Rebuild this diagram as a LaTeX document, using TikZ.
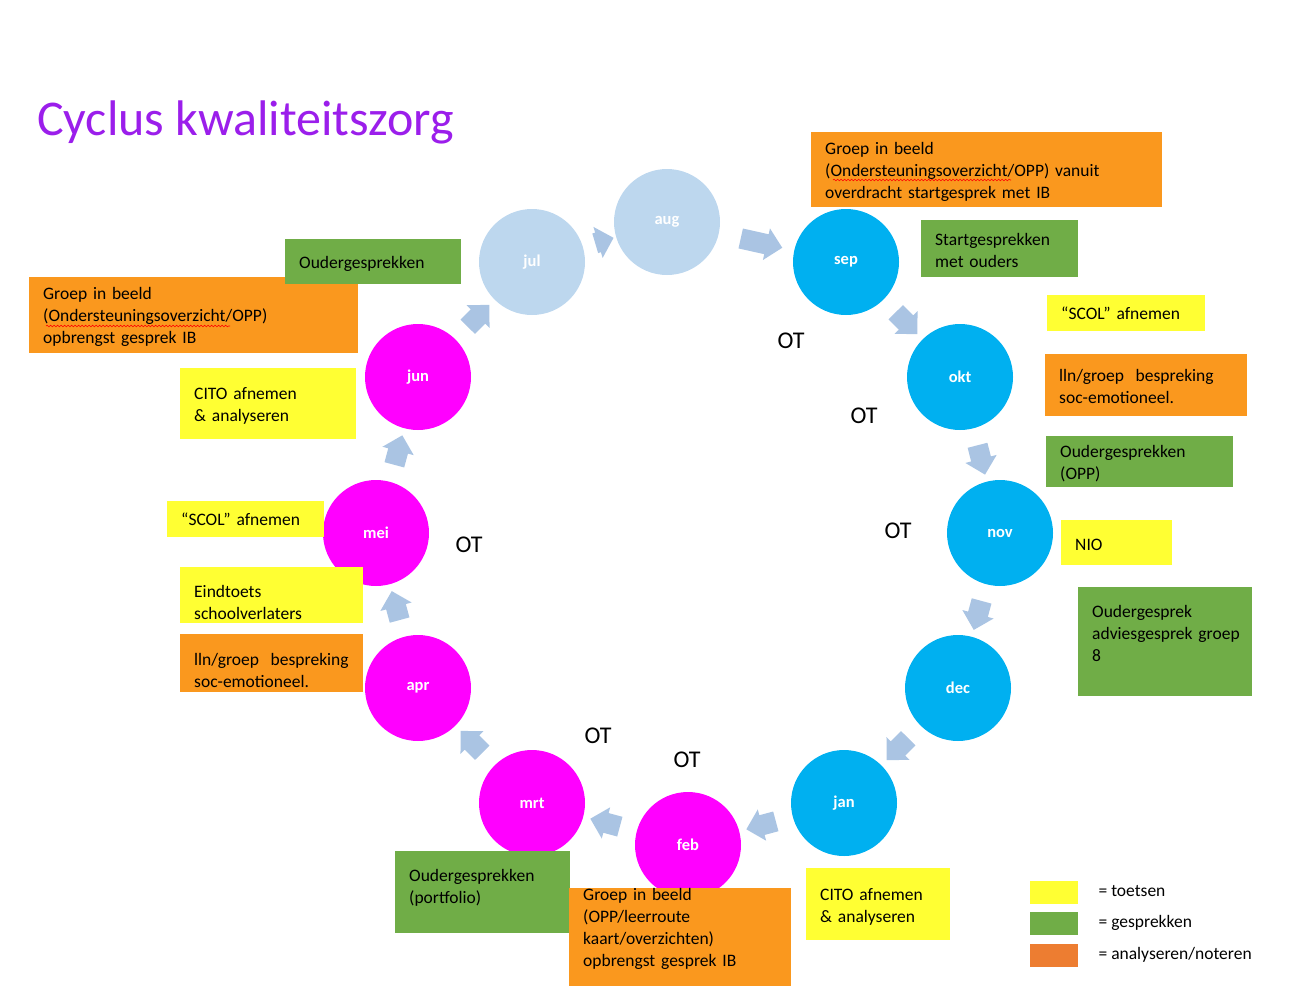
\documentclass[tikz,border=0pt]{standalone}
\usepackage{fontspec}
\setmainfont{Carlito}
\usetikzlibrary{positioning, calc, shapes.arrows, backgrounds, decorations.pathmorphing}
\definecolor{titlepurple}{RGB}{155,30,235}
\definecolor{monthlight}{RGB}{189,215,238}
\definecolor{monthcyan}{RGB}{0,176,240}
\definecolor{monthmagenta}{RGB}{255,0,255}
\definecolor{boxyellow}{RGB}{255,255,51}
\definecolor{boxgreen}{RGB}{112,173,71}
\definecolor{boxorange}{RGB}{250,152,30}
\definecolor{legendorange}{RGB}{237,125,49}
\definecolor{arrowblue}{RGB}{170,196,227}

\begin{document}
\begin{tikzpicture}[
    x=1pt, y=-1pt,
    month/.style={circle, inner sep=0pt, minimum size=106pt, text=white, font=\fontsize{16.5}{18}\selectfont\bfseries},
    cyclearrow/.style={single arrow, fill=arrowblue, inner xsep=0pt, inner ysep=10pt, single arrow head extend=6pt, single arrow head indent=0pt},
    infobox/.style={anchor=north west, inner xsep=14pt, inner ysep=0pt, align=left, font=\fontsize{17.5}{22}\selectfont},
    toets/.style={infobox, fill=boxyellow},
    gesprek/.style={infobox, fill=boxgreen},
    analyse/.style={infobox, fill=boxorange},
    ot/.style={font=\fontsize{24}{26}\selectfont},
    legendkey/.style={minimum width=48pt, minimum height=23pt, inner sep=0pt, anchor=north west},
    legendtext/.style={inner sep=0pt, text height=12pt, text depth=4pt, font=\fontsize{17.5}{20}\selectfont},
    typo/.style={draw=red, line width=0.6pt, decorate, decoration={snake, amplitude=0.8pt, segment length=3.5pt}}
]
    \useasboundingbox (0,0) rectangle (1303,985);

    % Title
    \node[anchor=base west, inner sep=0pt, text=titlepurple, font=\fontsize{50}{56}\selectfont] (title) at (37,135) {Cyclus kwaliteitszorg};

    % Months
    \node[month, fill=monthlight] (jul) at (532,262) {jul};
    \node[month, fill=monthlight] (aug) at (667,222) {aug};
    \node[month, fill=monthcyan] (sep) at (846,262) {sep};
    \node[month, fill=monthcyan] (okt) at (960,377) {okt};
    \node[month, fill=monthcyan] (nov) at (1000,533) {nov};
    \node[month, fill=monthcyan] (dec) at (958,688) {dec};
    \node[month, fill=monthcyan] (jan) at (844,803) {jan};
    \node[month, fill=monthmagenta] (feb) at (688,845) {feb};
    \node[month, fill=monthmagenta] (mrt) at (532,803) {mrt};
    \node[month, fill=monthmagenta] (apr) at (418,688) {apr};
    \node[month, fill=monthmagenta] (mei) at (376,533) {mei};
    \node[month, fill=monthmagenta] (jun) at (418,377) {jun};

    % Arrows between months
    \begin{scope}[on background layer]
    \foreach \from/\to in {jul/aug, aug/sep, sep/okt, okt/nov, nov/dec, dec/jan, jan/feb, feb/mrt, mrt/apr, apr/mei, mei/jun, jun/jul}
        \path let \p1 = ($(\to)-(\from)$),
                  \n1 = {atan2(\y1,\x1)},
                  \n2 = {0.55*(veclen(\x1,\y1)-106)} in
            node[cyclearrow, rotate=\n1, minimum height=\n2] (arrow-\from) at ($(\from)!0.5!(\to)$) {};
    \end{scope}

    % OT labels
    \node[ot] (ot-sep) at (791,341) {OT};
    \node[ot] (ot-okt) at (864,416) {OT};
    \node[ot] (ot-nov) at (898,531) {OT};
    \node[ot] (ot-mei) at (469,545) {OT};
    \node[ot] (ot-mrt) at (598,736) {OT};
    \node[ot] (ot-feb) at (687,760) {OT};

    % Right side
    \node[analyse, text width=323pt, text height=22.5pt, text depth=52.5pt] (beeld-sep) at (811,132) {Groep in beeld\\(Ondersteuningsoverzicht/OPP) vanuit\\overdracht startgesprek met IB};
    \node[gesprek, text width=129pt, text height=25.5pt, text depth=31.5pt] (start-sep) at (921,220) {Startgesprekken\\met ouders};
    \node[toets, text width=130pt, text height=24.5pt, text depth=11.5pt] (scol-okt) at (1047,295) {“SCOL” afnemen};
    \node[analyse, text width=174pt, text height=27.5pt, text depth=34.5pt] (lln-okt) at (1045,354) {lln/groep\ \ bespreking\\soc-emotioneel.};
    \node[gesprek, text width=159pt, text height=21.5pt, text depth=29.5pt] (ouder-nov) at (1046,436) {Oudergesprekken\\(OPP)};
    \node[toets, text width=83pt, text height=30.5pt, text depth=14.5pt] (nio-nov) at (1061,520) {NIO};
    \node[gesprek, text width=146pt, text height=30.5pt, text depth=78.5pt] (advies-dec) at (1078,587) {Oudergesprek\\adviesgesprek~groep\\8};

    % Bottom
    \node[toets, text width=116pt, text height=32.5pt, text depth=39.5pt] (cito-jan) at (806,868) {CITO afnemen\\\& analyseren};
    \node[gesprek, text width=147pt, text height=30.5pt, text depth=51.5pt] (ouder-mrt) at (395,851) {Oudergesprekken\\(portfolio)};
    \node[analyse, text width=194pt, text height=12.5pt, text depth=87.5pt] (beeld-feb) at (569,888) {Groep in beeld\\(OPP/leerroute\\kaart/overzichten)\\opbrengst gesprek IB};

    % Left side
    \node[analyse, text width=155pt, text height=31.5pt, text depth=26.5pt] (lln-apr) at (180,634) {lln/groep\ \ bespreking\\soc-emotioneel.};
    \node[toets, text width=155pt, text height=30.5pt, text depth=25.5pt] (eind-mei) at (180,567) {Eindtoets\\schoolverlaters};
    \node[toets, text width=129pt, text height=24.5pt, text depth=11.5pt] (scol-mei) at (167,501) {“SCOL” afnemen};
    \node[toets, text width=148pt, text height=31.5pt, text depth=39.5pt] (cito-jun) at (180,368) {CITO afnemen\\\& analyseren};
    \node[analyse, text width=301pt, text height=22.5pt, text depth=53.5pt] (beeld-jun) at (29,277) {Groep in beeld\\(Ondersteuningsoverzicht/OPP)\\opbrengst gesprek IB};
    \node[gesprek, text width=148pt, text height=29.5pt, text depth=15.5pt] (ouder-jul) at (285,239) {Oudergesprekken};

    % Spelling marks
    \draw[typo] (833,180) -- (1011,180);
    \draw[typo] (46,326) -- (230,326);

    % Legend
    \node[legendkey, fill=boxyellow] (key-toets) at (1030,881) {};
    \node[legendkey, fill=boxgreen] (key-gesprek) at (1030,912) {};
    \node[legendkey, fill=legendorange] (key-analyse) at (1030,944) {};
    \node[legendtext, right=20pt of key-toets] (txt-toets) {= toetsen};
    \node[legendtext, right=20pt of key-gesprek] (txt-gesprek) {= gesprekken};
    \node[legendtext, right=20pt of key-analyse] (txt-analyse) {= analyseren/noteren};
\end{tikzpicture}
\end{document}
